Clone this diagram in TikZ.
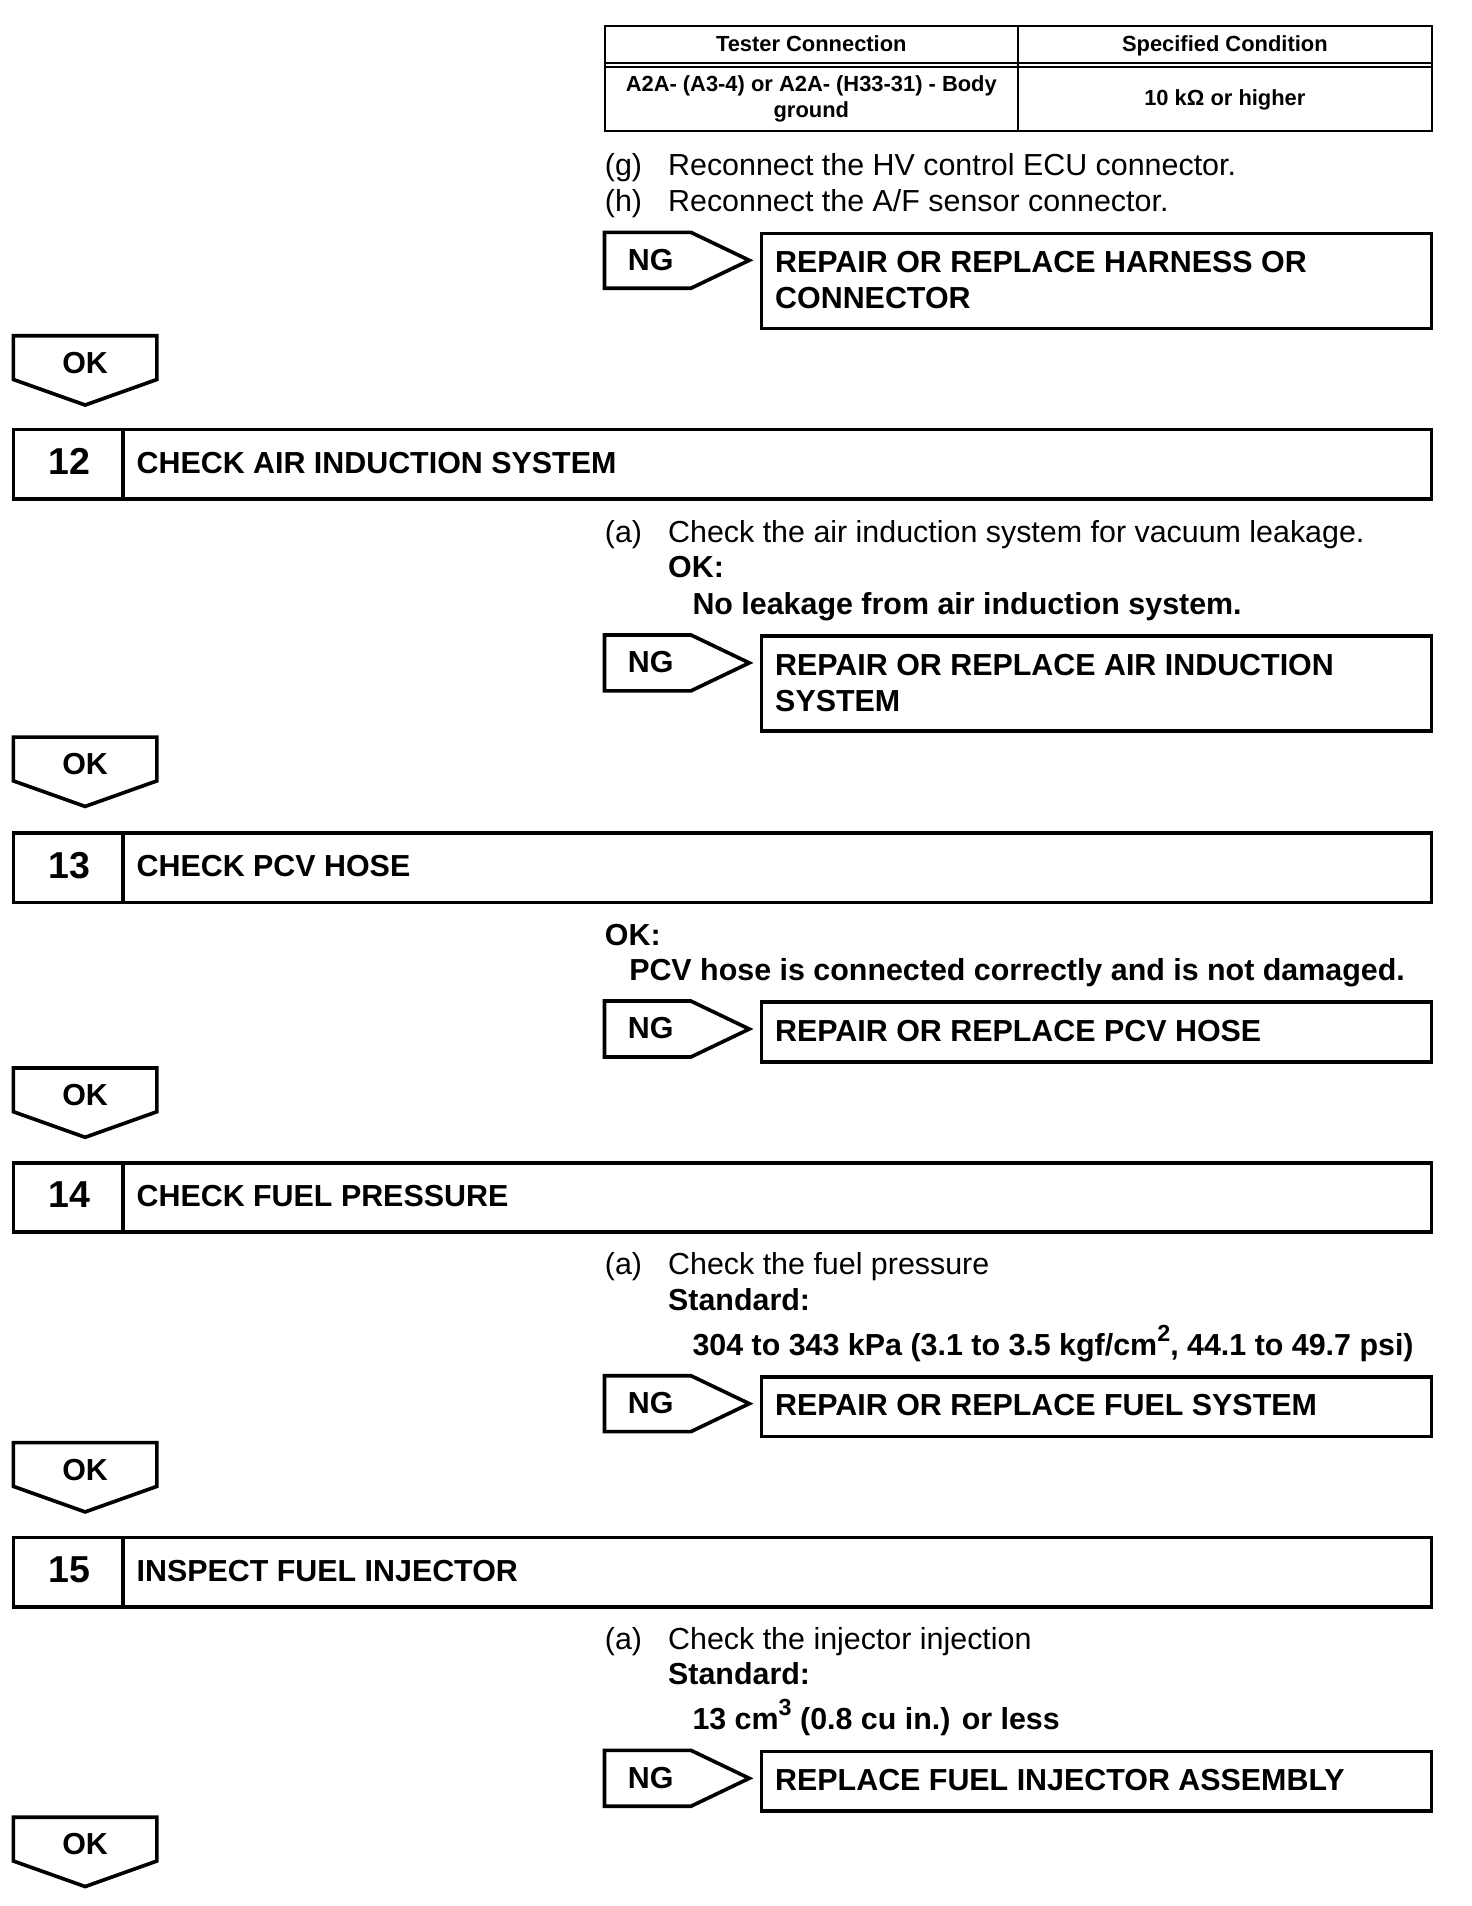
\documentclass[tikz,border=0pt]{standalone}
\usepackage{fontspec}
\setmainfont{Liberation Sans}
\newcommand\bodyfont{\fontsize{15pt}{18pt}\selectfont}
\newcommand\supx[1]{\raisebox{0.45em}{\fontsize{11.5pt}{11.5pt}\selectfont #1}}
\tikzset{
  txt/.style={anchor=base west, inner sep=0pt, font=\bodyfont},
  btxt/.style={anchor=base west, inner sep=0pt, font=\bodyfont\bfseries},
  tbl/.style={anchor=base, inner sep=0pt, font=\fontsize{10.8pt}{13pt}\selectfont\bfseries},
  frame/.style={draw=black, line width=1.8pt, line join=miter},
  tline/.style={draw=black, line width=1pt},
  numtxt/.style={anchor=base, inner sep=0pt, font=\fontsize{18.5pt}{20pt}\selectfont\bfseries},
}
\newcommand\okarrow[2]{%
  \draw[frame] (11,#2) -- (129,#2) -- (129,#2+36) -- (70,#2+57) -- (11,#2+36) -- cycle;
  \node[btxt, anchor=base] (#1) at (70,#2+31) {OK};
}
\newcommand\ngarrow[2]{%
  \draw[frame] (497,#2) -- (568,#2) -- (616,#2+23) -- (568,#2+46) -- (497,#2+46) -- cycle;
  \node[btxt, anchor=base] (#1) at (535,#2+31) {NG};
}
\newcommand\stepbox[4]{%
  \draw[frame] (11,#2) rectangle (1177,#2+57);
  \draw[frame] (101,#2) -- (101,#2+57);
  \node[numtxt] (#1n) at (57,#2+37) {#3};
  \node[btxt] (#1t) at (112,#2+36) {#4};
}
\begin{document}
\begin{tikzpicture}[x=0.6pt, y=-0.6pt]
\useasboundingbox (0,0) rectangle (1210,1567);
% table
\draw[tline] (497,21) rectangle (1177,108);
\draw[tline] (837,21) -- (837,108);
\draw[tline] (497,52) -- (1177,52);
\draw[tline] (497,55) -- (1177,55);
\node[tbl] (th1) at (667,42.5) {Tester Connection};
\node[tbl] (th2) at (1007,42.5) {Specified Condition};
\node[tbl] (td1a) at (667,75.5) {A2A- (A3-4) or A2A- (H33-31) - Body};
\node[tbl] (td1b) at (667,97) {ground};
\node[tbl] (td2) at (1007,86.5) {10 kΩ or higher};
\node[txt] (gl) at (497,144) {(g)};
\node[txt] (gt) at (549,144) {Reconnect the HV control ECU connector.};
\node[txt] (hl) at (497,174) {(h)};
\node[txt] (ht) at (549,174) {Reconnect the A/F sensor connector.};
\ngarrow{ng1}{191}
\draw[frame] (626,192) rectangle (1177,270);
\node[btxt] (r1a) at (637,224) {REPAIR OR REPLACE HARNESS OR};
\node[btxt] (r1b) at (637,254) {CONNECTOR};
\okarrow{ok1}{276}
% 12
\stepbox{s12}{353}{12}{CHECK AIR INDUCTION SYSTEM}
\node[txt] (a12) at (497,446) {(a)};
\node[txt] (a12t) at (549,446) {Check the air induction system for vacuum leakage.};
\node[btxt] (ok12) at (549,475) {OK:};
\node[btxt] (ok12t) at (569,505) {No leakage from air induction system.};
\ngarrow{ng2}{522}
\draw[frame] (626,523) rectangle (1177,601);
\node[btxt] (r2a) at (637,555) {REPAIR OR REPLACE AIR INDUCTION};
\node[btxt] (r2b) at (637,585) {SYSTEM};
\okarrow{ok2}{606}
% 13
\stepbox{s13}{685}{13}{CHECK PCV HOSE}
\node[btxt] (ok13) at (497,777) {OK:};
\node[btxt] (ok13t) at (517,806) {PCV hose is connected correctly and is not damaged.};
\ngarrow{ng3}{823}
\draw[frame] (626,824) rectangle (1177,873);
\node[btxt] (r3) at (637,856) {REPAIR OR REPLACE PCV HOSE};
\okarrow{ok3}{878}
% 14
\stepbox{s14}{956}{14}{CHECK FUEL PRESSURE}
\node[txt] (a14) at (497,1048) {(a)};
\node[txt] (a14t) at (549,1048) {Check the fuel pressure};
\node[btxt] (st14) at (549,1077) {Standard:};
\node[btxt] (st14t) at (569,1114) {304 to 343 kPa (3.1 to 3.5 kgf/cm\supx{2}, 44.1 to 49.7 psi)};
\ngarrow{ng4}{1131}
\draw[frame] (626,1132) rectangle (1177,1181);
\node[btxt] (r4) at (637,1164) {REPAIR OR REPLACE FUEL SYSTEM};
\okarrow{ok4}{1186}
% 15
\stepbox{s15}{1264}{15}{INSPECT FUEL INJECTOR}
\node[txt] (a15) at (497,1356) {(a)};
\node[txt] (a15t) at (549,1356) {Check the injector injection};
\node[btxt] (st15) at (549,1385) {Standard:};
\node[btxt] (st15t) at (569,1422) {13 cm\supx{3} (0.8 cu in.) or less};
\ngarrow{ng5}{1439}
\draw[frame] (626,1440) rectangle (1177,1489);
\node[btxt] (r5) at (637,1472) {REPLACE FUEL INJECTOR ASSEMBLY};
\okarrow{ok5}{1494}
\end{tikzpicture}
\end{document}
